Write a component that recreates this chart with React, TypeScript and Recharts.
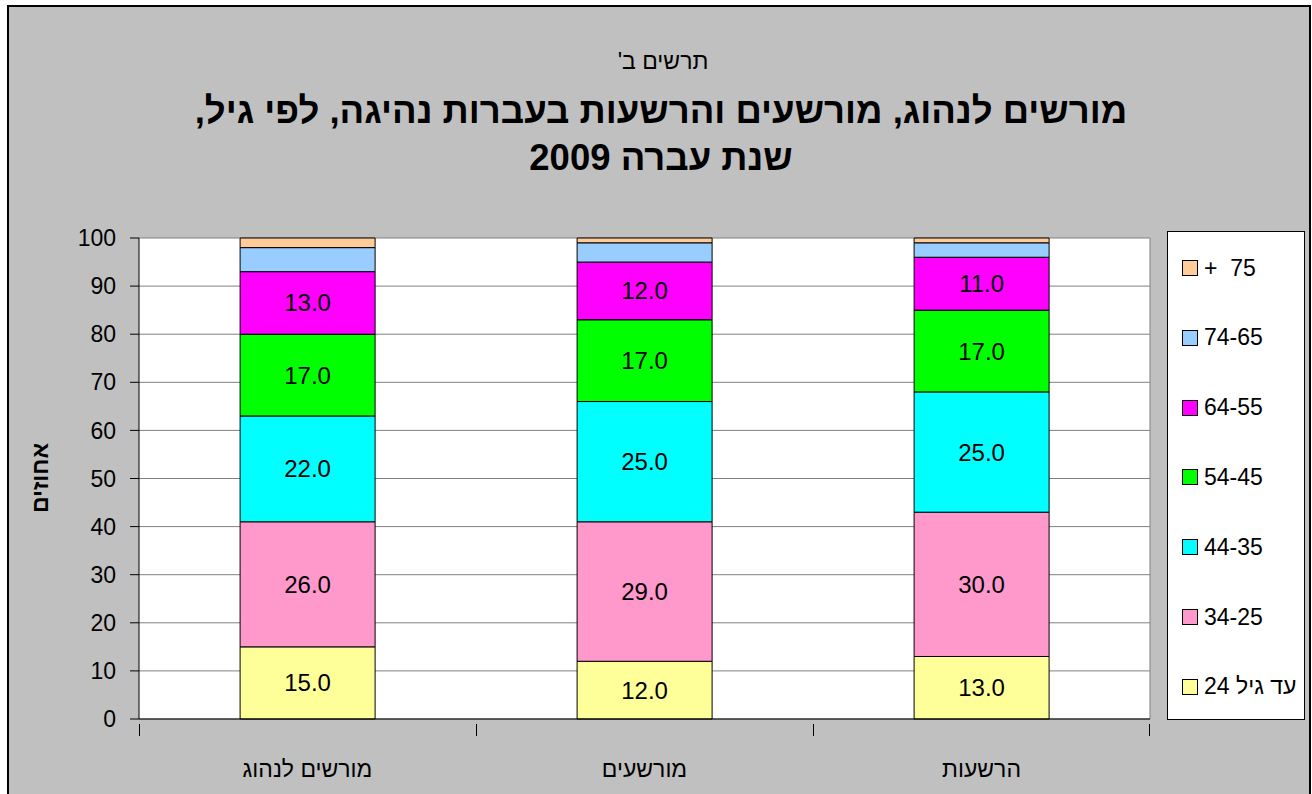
import {
  Bar,
  BarChart,
  CartesianGrid,
  LabelList,
  XAxis,
  YAxis,
} from "recharts";

const CATEGORIES = ["מורשים לנהוג", "מורשעים", "הרשעות"];

const SERIES_NAMES = [
  "עד גיל 24",
  "34-25",
  "44-35",
  "54-45",
  "64-55",
  "74-65",
  "+  75",
];

const SERIES_COLORS = [
  "#FFFF99",
  "#FF99CC",
  "#00FFFF",
  "#00FF00",
  "#FF00FF",
  "#99CCFF",
  "#FFCC99",
];

// rows = age group, columns = category
const UP_TO_24 = [15, 12, 13];
const AGE_25_34 = [26, 29, 30];
const AGE_35_44 = [22, 25, 25];
const AGE_45_54 = [17, 17, 17];
const AGE_55_64 = [13, 12, 11];
const AGE_65_74 = [5, 4, 3];
const AGE_75_PLUS = [2, 1, 1];

const SERIES_VALUES = [
  UP_TO_24,
  AGE_25_34,
  AGE_35_44,
  AGE_45_54,
  AGE_55_64,
  AGE_65_74,
  AGE_75_PLUS,
];

// only the first five groups carry a label on the bar
const LABELED = [true, true, true, true, true, false, false];

const Y_TICKS = [0, 10, 20, 30, 40, 50, 60, 70, 80, 90, 100];

const data = CATEGORIES.map((name, i) => {
  const row: Record<string, string | number> = { name };
  SERIES_VALUES.forEach((vals, s) => {
    row["s" + s] = vals[i];
  });
  return row;
});

const W = 1312;
const H = 794;
const MARGIN = { top: 238, right: 162, bottom: 35, left: 79 };
const Y_AXIS_W = 60;
const X_AXIS_H = 40;
const PLOT_W = W - MARGIN.left - Y_AXIS_W - MARGIN.right;
const BAND = PLOT_W / CATEGORIES.length;

const FONT = '"Liberation Sans", Arial, sans-serif';

function CategoryTick(props: any) {
  const { x, y, payload, index } = props;
  const half = BAND / 2;
  return (
    <g>
      <line
        x1={x - half + 0.5}
        y1={y - 3}
        x2={x - half + 0.5}
        y2={y + 9}
        stroke="#000"
      />
      {index === CATEGORIES.length - 1 && (
        <line
          x1={x + half - 0.5}
          y1={y - 3}
          x2={x + half - 0.5}
          y2={y + 9}
          stroke="#000"
        />
      )}
      <text
        x={x}
        y={y + 50}
        textAnchor="middle"
        fontSize={23}
        fontFamily={FONT}
        fill="#000"
      >
        {payload.value}
      </text>
    </g>
  );
}

function LegendBox() {
  const order = SERIES_NAMES.map((n, i) => i).reverse();
  return (
    <div
      style={{
        position: "absolute",
        left: 1167,
        top: 231,
        width: 136,
        height: 487,
        background: "#fff",
        border: "1.5px solid #000",
        fontFamily: FONT,
        fontSize: 23,
      }}
    >
      {order.map((s, k) => (
        <div
          key={s}
          style={{
            position: "absolute",
            left: 14,
            top: 36 + k * 69.8 - 14,
            height: 28,
            display: "flex",
            alignItems: "center",
          }}
        >
          <span
            style={{
              display: "inline-block",
              width: 14,
              height: 14,
              background: SERIES_COLORS[s],
              border: "1px solid #000",
              marginRight: 6,
              flexShrink: 0,
            }}
          />
          <span
            dir={s === SERIES_NAMES.length - 1 ? "ltr" : "rtl"}
            style={{ whiteSpace: "pre", color: "#000" }}
          >
            {SERIES_NAMES[s]}
          </span>
        </div>
      ))}
    </div>
  );
}

export default function App() {
  return (
    <div
      style={{
        position: "absolute",
        left: 0,
        top: 0,
        width: W,
        height: H,
        overflow: "hidden",
        fontFamily: FONT,
      }}
    >
      <div
        style={{
          position: "absolute",
          left: 7,
          top: 5,
          width: 1300,
          height: 820,
          background: "#C0C0C0",
          border: "2px solid #000",
        }}
      />
      <div
        dir="rtl"
        style={{
          position: "absolute",
          left: 0,
          width: 1326,
          top: 48,
          textAlign: "center",
          fontSize: 23,
          color: "#000",
        }}
      >
        תרשים ב'
      </div>
      <div
        dir="rtl"
        style={{
          position: "absolute",
          left: 0,
          width: 1322,
          top: 87,
          textAlign: "center",
          fontSize: 36.5,
          fontWeight: "bold",
          lineHeight: "47px",
          color: "#000",
        }}
      >
        מורשים לנהוג, מורשעים והרשעות בעברות נהיגה, לפי גיל,
        <br />
        שנת עברה 2009
      </div>
      <div style={{ position: "absolute", left: 0, top: 0 }}>
        <BarChart
          width={W}
          height={H}
          data={data}
          margin={MARGIN}
          barCategoryGap="30%"
        >
          <CartesianGrid
            fill="#fff"
            fillOpacity={1}
            stroke="#808080"
            vertical={true}
            verticalCoordinatesGenerator={({ offset }: any) => [
              offset.left + offset.width,
            ]}
          />
          <XAxis
            dataKey="name"
            height={X_AXIS_H}
            axisLine={{ stroke: "#000" }}
            tickLine={false}
            tick={<CategoryTick />}
            interval={0}
          />
          <YAxis
            width={Y_AXIS_W}
            domain={[0, 100]}
            ticks={Y_TICKS}
            interval={0}
            axisLine={{ stroke: "#000" }}
            tickLine={{ stroke: "#000" }}
            tickSize={9}
            tickMargin={14}
            tick={{ fontSize: 23, fill: "#000", fontFamily: FONT }}
          />
          {SERIES_NAMES.map((n, s) => (
            <Bar
              key={n}
              dataKey={"s" + s}
              name={n}
              stackId="a"
              fill={SERIES_COLORS[s]}
              stroke="#000"
              strokeWidth={1}
              isAnimationActive={false}
            >
              {LABELED[s] && (
                <LabelList
                  dataKey={"s" + s}
                  position="center"
                  formatter={(v: any) => Number(v).toFixed(1)}
                  style={{ fontSize: 24, fill: "#000", fontFamily: FONT }}
                />
              )}
            </Bar>
          ))}
        </BarChart>
      </div>
      <svg
        style={{ position: "absolute", left: 0, top: 0 }}
        width={80}
        height={H}
      >
        <text
          x={48}
          y={478}
          transform="rotate(-90 48 478)"
          textAnchor="middle"
          fontSize={23}
          fontWeight="bold"
          fontFamily={FONT}
          fill="#000"
          direction="rtl"
        >
          אחוזים
        </text>
      </svg>
      <LegendBox />
    </div>
  );
}
